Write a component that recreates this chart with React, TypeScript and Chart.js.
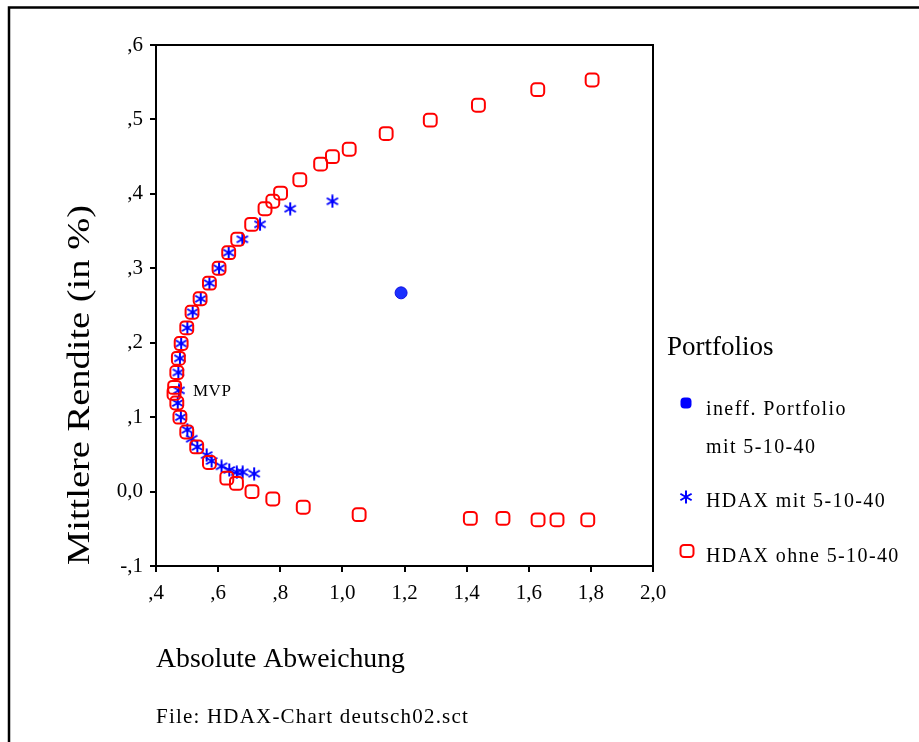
import React, { useEffect, useRef } from 'react';
import { Chart, registerables } from 'chart.js';

Chart.register(...registerables);

// ---- data ----
const xTickLabels = [',4', ',6', ',8', '1,0', '1,2', '1,4', '1,6', '1,8', '2,0'];
const yTickLabels = ['-,1', '0,0', ',1', ',2', ',3', ',4', ',5', ',6'];

const ineffX = [1.189];
const ineffY = [0.267];

const hdaxMitX = [0.968, 0.832, 0.735, 0.678, 0.634, 0.603, 0.572, 0.544, 0.518, 0.501, 0.481, 0.477, 0.472, 0.474, 0.470, 0.480, 0.501, 0.515, 0.533, 0.563, 0.579, 0.611, 0.636, 0.660, 0.679, 0.716];
const hdaxMitY = [0.390, 0.380, 0.359, 0.339, 0.321, 0.300, 0.280, 0.259, 0.241, 0.220, 0.199, 0.179, 0.160, 0.136, 0.119, 0.100, 0.083, 0.071, 0.060, 0.049, 0.041, 0.034, 0.029, 0.026, 0.026, 0.024];

const hdaxOhneX = [1.804, 1.629, 1.438, 1.283, 1.141, 1.022, 0.968, 0.930, 0.863, 0.801, 0.776, 0.751, 0.708, 0.663, 0.634, 0.603, 0.572, 0.542, 0.516, 0.499, 0.481, 0.472, 0.467, 0.460, 0.458, 0.467, 0.477, 0.499, 0.531, 0.572, 0.628, 0.659, 0.709, 0.776, 0.874, 1.054, 1.412, 1.517, 1.630, 1.691, 1.790];
const hdaxOhneY = [0.553, 0.540, 0.519, 0.499, 0.481, 0.460, 0.450, 0.440, 0.419, 0.401, 0.390, 0.380, 0.359, 0.339, 0.321, 0.300, 0.280, 0.259, 0.241, 0.220, 0.199, 0.179, 0.160, 0.140, 0.132, 0.119, 0.100, 0.080, 0.060, 0.039, 0.018, 0.011, 0.000, -0.010, -0.021, -0.031, -0.036, -0.036, -0.038, -0.038, -0.038];

const legendTitle = 'Portfolios';
const legendLabels = [['ineff. Portfolio', 'mit 5-10-40'], ['HDAX mit 5-10-40'], ['HDAX ohne 5-10-40']];
const xTitle = 'Absolute Abweichung';
const yTitle = 'Mittlere Rendite (in %)';
const fileLabel = 'File: HDAX-Chart deutsch02.sct';
const mvpLabel = 'MVP';

const BLUE = '#0000ff';
const RED = '#ff0000';
const FONT = '"Liberation Serif", "Times New Roman", serif';

function pts(xs: number[], ys: number[]) {
  return xs.map((x, i) => ({ x, y: ys[i] }));
}

function makeStar(color: string, size: number, lw: number) {
  const c = document.createElement('canvas');
  c.width = size;
  c.height = size;
  const ctx = c.getContext('2d')!;
  ctx.strokeStyle = color;
  ctx.lineWidth = lw;
  const r = size / 2 - 0.5;
  const cx = size / 2;
  const cy = size / 2;
  for (const a of [90, 30, 150]) {
    const rad = (a * Math.PI) / 180;
    ctx.beginPath();
    ctx.moveTo(cx - r * Math.cos(rad), cy - r * Math.sin(rad));
    ctx.lineTo(cx + r * Math.cos(rad), cy + r * Math.sin(rad));
    ctx.stroke();
  }
  return c;
}

function roundRectPath(ctx: CanvasRenderingContext2D, x: number, y: number, w: number, h: number, r: number) {
  ctx.beginPath();
  ctx.moveTo(x + r, y);
  ctx.lineTo(x + w - r, y);
  ctx.arcTo(x + w, y, x + w, y + r, r);
  ctx.lineTo(x + w, y + h - r);
  ctx.arcTo(x + w, y + h, x + w - r, y + h, r);
  ctx.lineTo(x + r, y + h);
  ctx.arcTo(x, y + h, x, y + h - r, r);
  ctx.lineTo(x, y + r);
  ctx.arcTo(x, y, x + r, y, r);
  ctx.closePath();
}

// draw text stretched/condensed to a target length along its direction
function fitText(ctx: CanvasRenderingContext2D, text: string, x: number, y: number, len: number) {
  const w = ctx.measureText(text).width;
  ctx.save();
  ctx.translate(x, y);
  ctx.scale(len / w, 1);
  ctx.fillText(text, 0, 0);
  ctx.restore();
}

export default function App() {
  const ref = useRef<HTMLCanvasElement | null>(null);

  useEffect(() => {
    if (!ref.current) return;
    const star = makeStar(BLUE, 14, 2);

    const decor = {
      id: 'decor',
      afterDraw(chart: any) {
        const ctx: CanvasRenderingContext2D = chart.ctx;
        const a = chart.chartArea;
        ctx.save();
        // outer frame (top + left)
        ctx.strokeStyle = '#000';
        ctx.lineWidth = 2.5;
        ctx.beginPath();
        ctx.moveTo(9, 742);
        ctx.lineTo(9, 7.5);
        ctx.lineTo(919, 7.5);
        ctx.stroke();
        // plot box top + right
        ctx.lineWidth = 2;
        ctx.beginPath();
        ctx.moveTo(a.left, a.top);
        ctx.lineTo(a.right, a.top);
        ctx.lineTo(a.right, a.bottom);
        ctx.stroke();

        ctx.fillStyle = '#000';
        ctx.textAlign = 'left';
        ctx.textBaseline = 'alphabetic';

        // MVP label
        const xs = chart.scales.x;
        const ys = chart.scales.y;
        ctx.font = `17px ${FONT}`;
        (ctx as any).letterSpacing = '0.5px';
        ctx.fillText(mvpLabel, xs.getPixelForValue(hdaxMitX[13]) + 14, ys.getPixelForValue(hdaxMitY[13]) + 6);
        (ctx as any).letterSpacing = '0px';

        // axis titles
        ctx.font = `28px ${FONT}`;
        fitText(ctx, xTitle, 156, 667, 249);
        ctx.font = `32px ${FONT}`;
        ctx.save();
        ctx.translate(89, 565);
        ctx.rotate(-Math.PI / 2);
        fitText(ctx, yTitle, 0, 0, 360);
        ctx.restore();

        // file label
        ctx.font = `21px ${FONT}`;
        (ctx as any).letterSpacing = '1.2px';
        ctx.fillText(fileLabel, 156, 723);

        // legend
        ctx.font = `27px ${FONT}`;
        (ctx as any).letterSpacing = '0px';
        ctx.fillText(legendTitle, 667, 355);
        ctx.font = `20px ${FONT}`;
        (ctx as any).letterSpacing = '1.4px';
        ctx.fillText(legendLabels[0][0], 706, 415);
        ctx.fillText(legendLabels[0][1], 706, 453);
        ctx.fillText(legendLabels[1][0], 706, 507);
        ctx.fillText(legendLabels[2][0], 706, 562);
        (ctx as any).letterSpacing = '0px';

        // legend markers
        ctx.fillStyle = BLUE;
        roundRectPath(ctx, 680.5, 397.5, 11, 11, 4);
        ctx.fill();
        ctx.drawImage(star, 686 - 7, 497 - 7);
        ctx.strokeStyle = RED;
        ctx.lineWidth = 2;
        roundRectPath(ctx, 680.5, 545, 13, 12, 3.5);
        ctx.stroke();
        ctx.restore();
      },
    };

    const chart = new Chart(ref.current, {
      type: 'scatter',
      data: {
        datasets: [
          {
            label: 'HDAX ohne 5-10-40',
            data: pts(hdaxOhneX, hdaxOhneY),
            pointStyle: 'rectRounded',
            pointRadius: 7.5,
            borderColor: RED,
            backgroundColor: 'rgba(0,0,0,0)',
            borderWidth: 2,
            order: 1,
          },
          {
            label: 'HDAX mit 5-10-40',
            data: pts(hdaxMitX, hdaxMitY),
            pointStyle: star as any,
            pointRadius: 7,
            borderColor: BLUE,
            backgroundColor: BLUE,
            order: 2,
          },
          {
            label: 'ineff. Portfolio mit 5-10-40',
            data: pts(ineffX, ineffY),
            pointStyle: 'circle',
            pointRadius: 6,
            borderColor: '#1010e0',
            borderWidth: 1,
            backgroundColor: '#1a30ff',
            order: 0,
          },
        ],
      },
      options: {
        animation: false,
        responsive: false,
        devicePixelRatio: 1,
        layout: { padding: { left: 0, top: 45, right: 266, bottom: 0 } },
        plugins: { legend: { display: false }, tooltip: { enabled: false } },
        scales: {
          x: {
            type: 'linear',
            min: 0.4,
            max: 2.0,
            afterFit: (s: any) => { s.height = 176; },
            ticks: {
              stepSize: 0.2,
              color: '#000',
              padding: 9,
              font: { family: FONT, size: 21 },
              callback: (v: any) => xTickLabels[Math.round((Number(v) - 0.4) / 0.2)] ?? '',
            },
            grid: { drawOnChartArea: false, drawTicks: true, tickLength: 6, color: '#000', lineWidth: 2 },
            border: { display: true, color: '#000', width: 2 },
          },
          y: {
            type: 'linear',
            min: -0.1,
            max: 0.6,
            afterFit: (s: any) => { s.width = 156; },
            ticks: {
              stepSize: 0.1,
              color: '#000',
              padding: 7,
              font: { family: FONT, size: 21 },
              callback: (v: any) => yTickLabels[Math.round((Number(v) + 0.1) / 0.1)] ?? '',
            },
            grid: { drawOnChartArea: false, drawTicks: true, tickLength: 6, color: '#000', lineWidth: 2 },
            border: { display: true, color: '#000', width: 2 },
          },
        },
      },
      plugins: [decor],
    });
    return () => chart.destroy();
  }, []);

  return (
    <div style={{ position: 'fixed', left: 0, top: 0, width: 919, height: 742, background: '#fff' }}>
      <canvas ref={ref} width={919} height={742} style={{ display: 'block', width: 919, height: 742 }} />
    </div>
  );
}
